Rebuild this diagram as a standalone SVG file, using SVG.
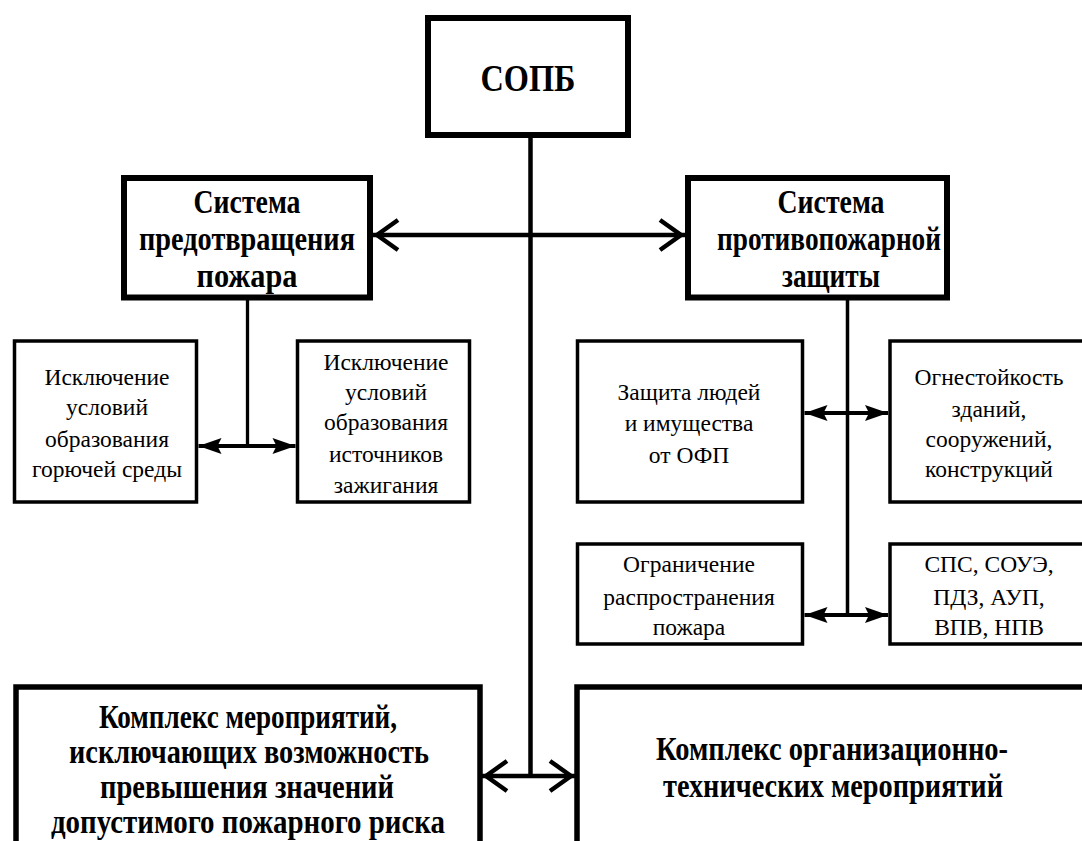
<svg xmlns="http://www.w3.org/2000/svg" width="1082" height="841" viewBox="0 0 1082 841">
<style>
.bg{fill:#fff}
.big{fill:#fff;stroke:#000;stroke-width:6}
.mid{fill:#fff;stroke:#000;stroke-width:5.5}
.sm{fill:#fff;stroke:#000;stroke-width:3.5}
.tb{font-family:"Liberation Serif","Times New Roman",serif;font-weight:bold;fill:#000;text-anchor:middle}
.tr{font-family:"Liberation Serif","Times New Roman",serif;font-size:23.5px;fill:#000;text-anchor:middle}
.line{stroke:#000;fill:none}
</style>
<defs>
<marker id="ab" markerUnits="userSpaceOnUse" viewBox="-30 -18 32 36" refX="0" refY="0" markerWidth="32" markerHeight="36" orient="auto-start-reverse" overflow="visible">
<path d="M-25,-15 L-4,0 L-25,15" fill="none" stroke="#000" stroke-width="4.5" stroke-linejoin="miter" stroke-miterlimit="10"/>
</marker>
<marker id="as" markerUnits="userSpaceOnUse" viewBox="-24 -10 26 20" refX="0" refY="0" markerWidth="26" markerHeight="20" orient="auto-start-reverse">
<path d="M0,0 L-23,-8 L-19,0 L-23,8 Z" fill="#000"/>
</marker>
</defs>
<rect class="bg" x="0" y="0" width="1082" height="841"/>

<g id="connectors">
<line class="line" x1="530.5" y1="138" x2="530.5" y2="776" stroke-width="4.5"/>
<line class="line" x1="373" y1="235" x2="685" y2="235" stroke-width="4.5" marker-start="url(#ab)" marker-end="url(#ab)"/>
<line class="line" x1="482" y1="776" x2="575" y2="776" stroke-width="4.5" marker-start="url(#ab)" marker-end="url(#ab)"/>
<line class="line" x1="247.5" y1="300" x2="247.5" y2="446" stroke-width="3.3"/>
<line class="line" x1="198.5" y1="446" x2="295.5" y2="446" stroke-width="4" marker-start="url(#as)" marker-end="url(#as)"/>
<line class="line" x1="847.5" y1="300" x2="847.5" y2="615" stroke-width="3.5"/>
<line class="line" x1="804.5" y1="413" x2="888" y2="413" stroke-width="4" marker-start="url(#as)" marker-end="url(#as)"/>
<line class="line" x1="804.5" y1="615" x2="888" y2="615" stroke-width="4" marker-start="url(#as)" marker-end="url(#as)"/>
</g>

<g id="sopb">
<rect class="big" x="428" y="18" width="200" height="117"/>
<text class="tb" x="528" y="91" font-size="38" textLength="95" lengthAdjust="spacingAndGlyphs">СОПБ</text>
</g>

<g id="prevention">
<rect class="big" x="124" y="178" width="246" height="119.5"/>
<text class="tb" font-size="34" x="247" y="213" textLength="107" lengthAdjust="spacingAndGlyphs">Система</text>
<text class="tb" font-size="34" x="247" y="250" textLength="216" lengthAdjust="spacingAndGlyphs">предотвращения</text>
<text class="tb" font-size="34" x="247" y="287" textLength="101" lengthAdjust="spacingAndGlyphs">пожара</text>
</g>

<g id="protection">
<rect class="big" x="688" y="178" width="259" height="119.5"/>
<text class="tb" font-size="34" x="831" y="213" textLength="107" lengthAdjust="spacingAndGlyphs">Система</text>
<text class="tb" font-size="34" x="829" y="250" textLength="224" lengthAdjust="spacingAndGlyphs">противопожарной</text>
<text class="tb" font-size="34" x="831" y="287" textLength="98" lengthAdjust="spacingAndGlyphs">защиты</text>
</g>

<g id="combustible">
<rect class="sm" x="14.5" y="341" width="182" height="161"/>
<text class="tr" x="107" y="385">Исключение</text>
<text class="tr" x="107" y="415">условий</text>
<text class="tr" x="107" y="447">образования</text>
<text class="tr" x="107" y="477">горючей среды</text>
</g>

<g id="ignition">
<rect class="sm" x="297.5" y="341" width="172" height="161"/>
<text class="tr" x="386" y="370">Исключение</text>
<text class="tr" x="386" y="400">условий</text>
<text class="tr" x="386" y="430">образования</text>
<text class="tr" x="386" y="462">источников</text>
<text class="tr" x="386" y="493">зажигания</text>
</g>

<g id="people">
<rect class="sm" x="577.5" y="341" width="225" height="161"/>
<text class="tr" x="689" y="400">Защита людей</text>
<text class="tr" x="689" y="431">и имущества</text>
<text class="tr" x="689" y="463">от ОФП</text>
</g>

<g id="fireresist">
<rect class="sm" x="890" y="341" width="210" height="161"/>
<text class="tr" x="989" y="385">Огнестойкость</text>
<text class="tr" x="989" y="417">зданий,</text>
<text class="tr" x="989" y="447">сооружений,</text>
<text class="tr" x="989" y="477">конструкций</text>
</g>

<g id="spread">
<rect class="sm" x="577.5" y="544" width="225" height="100"/>
<text class="tr" x="689" y="572">Ограничение</text>
<text class="tr" x="689" y="605">распространения</text>
<text class="tr" x="689" y="635">пожара</text>
</g>

<g id="systems">
<rect class="sm" x="890" y="544" width="210" height="100"/>
<text class="tr" x="989" y="572">СПС, СОУЭ,</text>
<text class="tr" x="989" y="605">ПДЗ, АУП,</text>
<text class="tr" x="989" y="635">ВПВ, НПВ</text>
</g>

<g id="risk">
<rect class="mid" x="16" y="687" width="464" height="200"/>
<text class="tb" font-size="33" x="248" y="728" textLength="298" lengthAdjust="spacingAndGlyphs">Комплекс мероприятий,</text>
<text class="tb" font-size="33" x="249" y="763" textLength="360" lengthAdjust="spacingAndGlyphs">исключающих возможность</text>
<text class="tb" font-size="33" x="247" y="798" textLength="294" lengthAdjust="spacingAndGlyphs">превышения значений</text>
<text class="tb" font-size="33" x="248" y="833" textLength="394" lengthAdjust="spacingAndGlyphs">допустимого пожарного риска</text>
</g>

<g id="orgtech">
<rect class="mid" x="577" y="687" width="530" height="200"/>
<text class="tb" font-size="33" x="832" y="760" textLength="352" lengthAdjust="spacingAndGlyphs">Комплекс организационно-</text>
<text class="tb" font-size="33" x="833" y="797" textLength="340" lengthAdjust="spacingAndGlyphs">технических мероприятий</text>
</g>
</svg>
